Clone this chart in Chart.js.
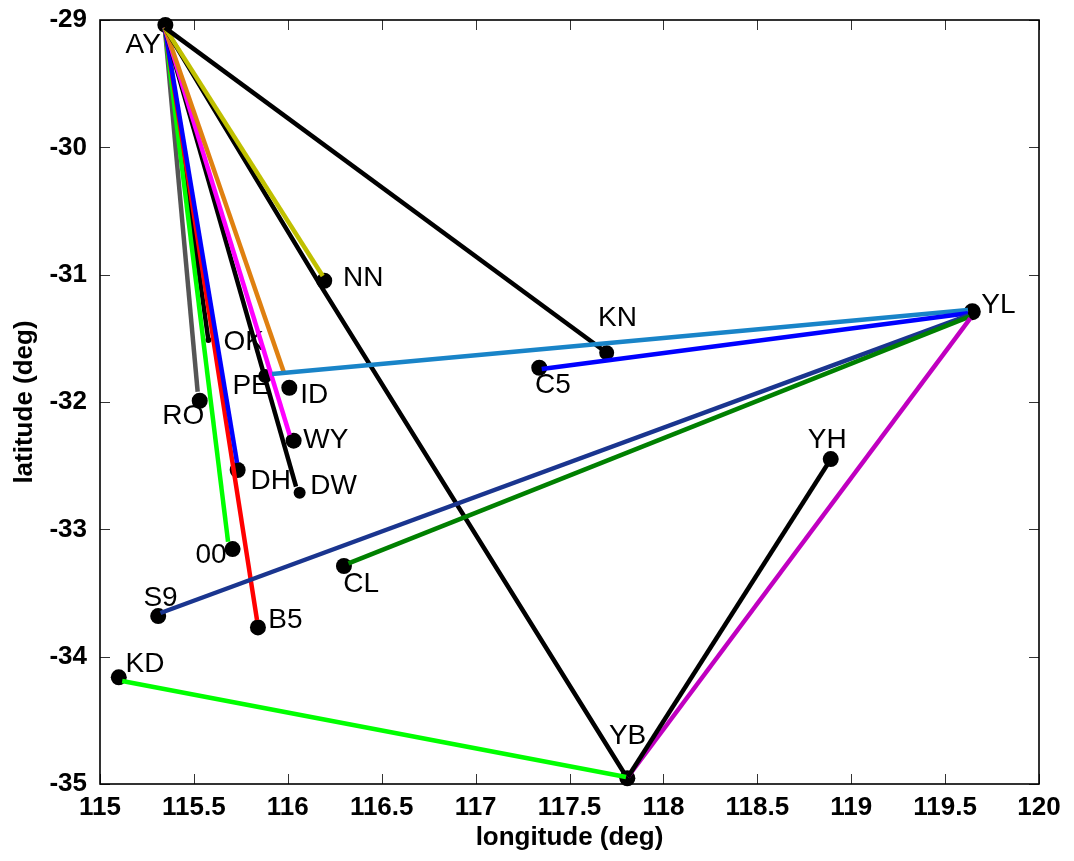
<!DOCTYPE html>
<html>
<head>
<meta charset="utf-8">
<title>Station links</title>
<script src="https://cdn.jsdelivr.net/npm/chart.js@4.4.0/dist/chart.umd.min.js"></script>
<style>
    html, body { margin: 0; padding: 0; background: #fff; }
    #wrap { width: 1074px; height: 861px; }
</style>
</head>
<body>
<div id="wrap"><canvas id="stationChart" width="1074" height="861"></canvas></div>
<script>
// Station positions (deg)
const stationNames = ['AY', 'NN', 'KN', 'YL', 'C5', 'OK', 'PE', 'ID', 'RO', 'WY', 'DH', 'DW', '00', 'CL', 'S9', 'B5', 'KD', 'YH', 'YB'];
const stationLon = [115.348, 116.194, 117.698, 119.645, 117.339, 115.577, 115.880, 116.008, 115.531, 116.031, 115.733, 116.063, 115.706, 116.299, 115.310, 115.841, 115.100, 118.891, 117.808];
const stationLat = [-29.039, -31.048, -31.613, -31.291, -31.731, -31.513, -31.796, -31.888, -31.990, -32.304, -32.534, -32.712, -33.155, -33.288, -33.681, -33.770, -34.162, -32.448, -34.955];

// Where each name is written (deg)
const labelLon = [115.136, 116.294, 117.652, 119.693, 117.316, 115.657, 115.705, 116.066, 115.332, 116.082, 115.801, 116.120, 115.508, 116.295, 115.231, 115.896, 115.136, 118.769, 117.710];
const labelLat = [-29.195, -31.029, -31.343, -31.241, -31.872, -31.529, -31.880, -31.951, -32.116, -32.298, -32.626, -32.665, -33.202, -33.429, -33.539, -33.718, -34.058, -32.304, -34.623];

// Links (lon / lat of each vertex), first one ends up at the bottom
const linkLon = [
    [115.345, 115.577],           // AY - OK
    [115.345, 115.520],           // AY - RO
    [115.345, 115.682],           // AY - 00
    [115.345, 115.836],           // AY - B5
    [115.345, 115.730],           // AY - DH
    [115.345, 116.044],           // AY - DW
    [115.345, 116.010],           // AY - WY
    [115.345, 115.978],           // AY - ID
    [115.345, 116.165, 117.808],  // AY - NN - YB
    [115.345, 116.186],           // AY - NN
    [115.345, 117.698],           // AY - KN
    [115.916, 119.622],           // PE - YL
    [117.352, 119.621],           // C5 - YL
    [115.322, 119.624],           // S9 - YL
    [116.323, 119.630],           // CL - YL
    [117.811, 119.634],           // YB - YL
    [117.811, 118.891],           // YB - YH
    [115.118, 117.801]            // KD - YB
];
const linkLat = [
    [-29.060, -31.513],
    [-29.060, -31.919],
    [-29.060, -33.097],
    [-29.060, -33.712],
    [-29.060, -32.479],
    [-29.060, -32.665],
    [-29.060, -32.259],
    [-29.060, -31.762],
    [-29.060, -31.062, -34.955],
    [-29.060, -31.011],
    [-29.060, -31.613],
    [-31.780, -31.278],
    [-31.741, -31.303],
    [-33.657, -31.320],
    [-33.267, -31.330],
    [-34.945, -31.343],
    [-34.945, -32.449],
    [-34.191, -34.945]
];

const xTicks = [115, 115.5, 116, 116.5, 117, 117.5, 118, 118.5, 119, 119.5, 120];
const yTicks = [-35, -34, -33, -32, -31, -30, -29];

// Styles
const linkColors = ['#000000', '#555555', '#00ff00', '#ff0000', '#0000ff', '#000000', '#ff00ff', '#df8010', '#000000',
    '#c0c000', '#000000', '#1984c8', '#0000ff', '#1a358f', '#008000', '#c000c0', '#000000', '#00ff00'];
const markerRadius = [8, 8, 7.5, 8.5, 8, 3, 7, 8, 8, 8, 8, 6, 8, 8, 8, 8, 8, 8, 8];

// frame, inward ticks, station names and axis titles
const framePlugin = {
    id: 'frame',
    beforeDatasetsDraw(chart) {
        const { ctx, chartArea: a, scales } = chart;
        ctx.save();
        ctx.strokeStyle = '#333';
        ctx.lineWidth = 1;
        xTicks.forEach(v => {
            const px = Math.round(scales.x.getPixelForValue(v)) + 0.5;
            ctx.beginPath();
            ctx.moveTo(px, a.bottom); ctx.lineTo(px, a.bottom - 10);
            ctx.moveTo(px, a.top); ctx.lineTo(px, a.top + 10);
            ctx.stroke();
        });
        yTicks.forEach(v => {
            const py = Math.round(scales.y.getPixelForValue(v)) + 0.5;
            ctx.beginPath();
            ctx.moveTo(a.left, py); ctx.lineTo(a.left + 10, py);
            ctx.moveTo(a.right, py); ctx.lineTo(a.right - 10, py);
            ctx.stroke();
        });
        ctx.strokeStyle = '#000';
        ctx.lineWidth = 1.6;
        ctx.strokeRect(a.left, a.top, a.right - a.left, a.bottom - a.top);

        ctx.fillStyle = '#000';
        ctx.font = '28px Arial, "Liberation Sans", sans-serif';
        ctx.textAlign = 'left';
        ctx.textBaseline = 'middle';
        stationNames.forEach((name, i) => {
            ctx.fillText(name, scales.x.getPixelForValue(labelLon[i]), scales.y.getPixelForValue(labelLat[i]));
        });
        ctx.restore();
    },
    afterDraw(chart) {
        const { ctx, chartArea: a } = chart;
        ctx.save();
        ctx.fillStyle = '#000';
        ctx.font = 'bold 26px Arial, "Liberation Sans", sans-serif';
        ctx.textAlign = 'center';
        ctx.textBaseline = 'middle';
        ctx.fillText('longitude (deg)', (a.left + a.right) / 2, 838);
        ctx.translate(25, (a.top + a.bottom) / 2);
        ctx.rotate(-Math.PI / 2);
        ctx.fillText('latitude (deg)', 0, 0);
        ctx.restore();
    }
};

document.addEventListener('DOMContentLoaded', function() {
    const ctx = document.getElementById('stationChart');

    const linkSets = linkLon.map((lons, i) => ({
        data: lons.map((x, k) => ({ x: x, y: linkLat[i][k] })),
        showLine: true,
        borderColor: linkColors[i],
        borderWidth: 4.5,
        pointRadius: 0,
        fill: false,
        clip: false,
        order: linkLon.length - i
    }));

    const stationSet = {
        data: stationLon.map((x, i) => ({ x: x, y: stationLat[i] })),
        showLine: false,
        pointRadius: markerRadius,
        pointBackgroundColor: '#000',
        pointBorderWidth: 0,
        clip: false,
        order: linkLon.length + 5
    };

    const tickFont = { family: 'Arial, "Liberation Sans", sans-serif', size: 26, weight: 'bold' };

    new Chart(ctx, {
        type: 'scatter',
        data: { datasets: [stationSet].concat(linkSets) },
        options: {
            responsive: false,
            animation: false,
            devicePixelRatio: 1,
            layout: { padding: { top: 20, right: 35, left: 0, bottom: 0 } },
            plugins: {
                legend: { display: false },
                tooltip: { enabled: false }
            },
            scales: {
                x: {
                    type: 'linear',
                    min: 115,
                    max: 120,
                    afterBuildTicks: scale => { scale.ticks = xTicks.map(v => ({ value: v })); },
                    afterFit: scale => {
                        scale.height = 77;
                        scale.paddingLeft = 0;
                        scale.paddingRight = 0;
                    },
                    grid: { display: false, drawTicks: false },
                    border: { display: false },
                    ticks: {
                        font: tickFont, color: '#000', padding: 8, maxRotation: 0, autoSkip: false,
                        callback: v => String(v)
                    }
                },
                y: {
                    type: 'linear',
                    min: -35,
                    max: -29,
                    afterBuildTicks: scale => { scale.ticks = yTicks.map(v => ({ value: v })); },
                    afterFit: scale => {
                        scale.width = 100;
                        scale.paddingTop = 0;
                        scale.paddingBottom = 0;
                    },
                    grid: { display: false, drawTicks: false },
                    border: { display: false },
                    ticks: {
                        font: tickFont, color: '#000', padding: 13, autoSkip: false,
                        callback: v => String(v)
                    }
                }
            }
        },
        plugins: [framePlugin]
    });
});
</script>
</body>
</html>
